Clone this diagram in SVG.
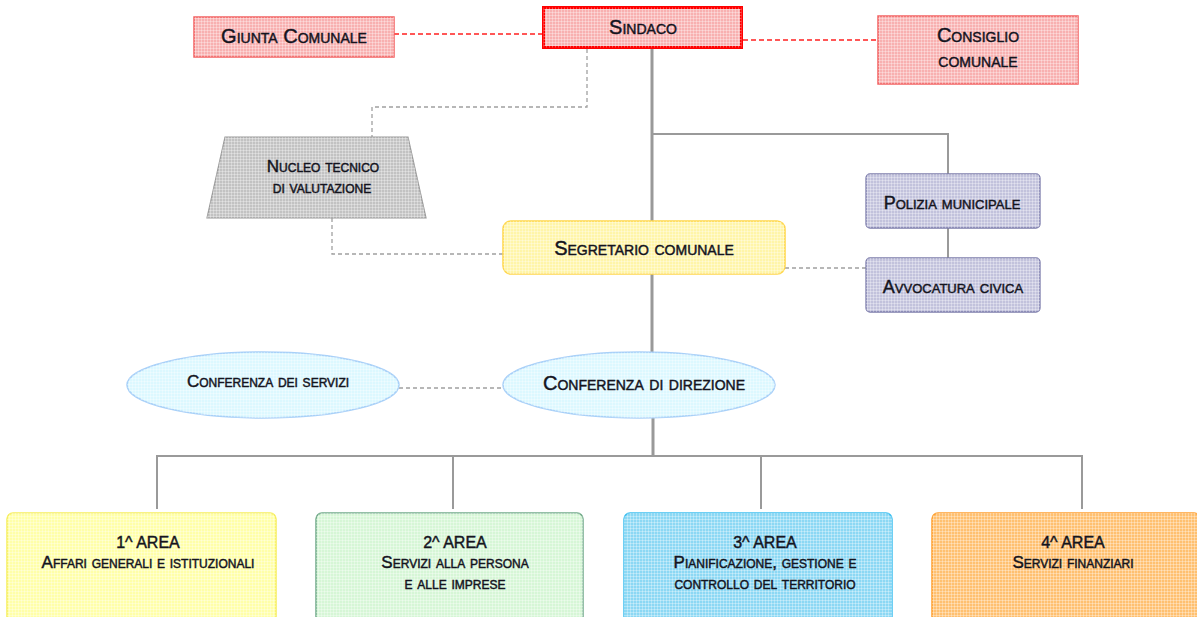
<svg xmlns="http://www.w3.org/2000/svg" width="1197" height="617" viewBox="0 0 1197 617">
<defs>
<pattern id="grid" width="3" height="3" patternUnits="userSpaceOnUse">
<path d="M0 0.5H3M0.5 0V3" stroke="#ffffff" stroke-width="0.7" stroke-opacity="0.45" fill="none"/>
</pattern>
<style>
text{font-family:"Liberation Sans",Arial,sans-serif;fill:#14141e;stroke:#14141e;stroke-width:0.45;text-anchor:middle;font-variant:small-caps}
.t20{font-size:20px}
.t18{font-size:18px}
.t17{font-size:17px}
.t16{font-size:16px;font-variant:normal}
.g{fill:url(#grid);stroke:none}
.solid{fill:none;stroke:#9a9a9a;stroke-width:2}
.main{fill:none;stroke:#999;stroke-width:3}
.dash{fill:none;stroke:#a0a0a0;stroke-width:1.3;stroke-dasharray:4 3}
.rdash{fill:none;stroke:#ff2020;stroke-width:1.3;stroke-dasharray:5 3}
</style>
</defs>
<rect width="1197" height="617" fill="#ffffff"/>

<g id="connectors">
<path class="main" d="M652 49V221M652 274V352M653 418V456"/>
<path class="solid" d="M652 134H948V174M948 228V258"/>
<path class="solid" d="M157 509V456H1082V509M453 456V509M761 456V509"/>
<path class="rdash" d="M394 34H542M743 40H878"/>
<path class="dash" d="M587 49V107H372V137M332 218V254H503M785 268H866M399 388H503"/>
</g>

<g id="giunta">
<rect x="194" y="17" width="200" height="40" fill="#f8b0b0" stroke="#f26262" stroke-width="1.5"/>
<rect x="194" y="17" width="200" height="40" class="g"/>
<text class="t20" x="294" y="43">Giunta Comunale</text>
</g>

<g id="sindaco">
<rect x="543.5" y="7.5" width="198" height="40" fill="#f8b0b0" stroke="#ff0000" stroke-width="3"/>
<rect x="543.5" y="7.5" width="198" height="40" class="g"/>
<text class="t20" x="643" y="34">Sindaco</text>
</g>

<g id="consiglio">
<rect x="878" y="16" width="200" height="68" fill="#f8b0b0" stroke="#f26262" stroke-width="1.5"/>
<rect x="878" y="16" width="200" height="68" class="g"/>
<text class="t20" x="978" y="42">Consiglio</text>
<text class="t20" x="978" y="67">comunale</text>
</g>

<g id="nucleo">
<polygon points="225,137 408,137 426,218 207,218" fill="#c2c2c2" stroke="#9a9a9a" stroke-width="1.2"/>
<polygon points="225,137 408,137 426,218 207,218" class="g"/>
<text class="t17" x="323" y="172">Nucleo tecnico</text>
<text class="t17" x="322" y="193">di valutazione</text>
</g>

<g id="segretario">
<rect x="503" y="221" width="282" height="53" rx="8" fill="#fff5a8" stroke="#ffd64a" stroke-width="1.5"/>
<rect x="503" y="221" width="282" height="53" rx="8" class="g"/>
<text class="t20" x="644" y="255">Segretario comunale</text>
</g>

<g id="polizia">
<rect x="866" y="174" width="174" height="54" rx="4" fill="#c2c2dc" stroke="#7c7cab" stroke-width="1.3"/>
<rect x="866" y="174" width="174" height="54" rx="4" class="g"/>
<text class="t18" x="952" y="209">Polizia municipale</text>
</g>

<g id="avvocatura">
<rect x="866" y="258" width="174" height="54" rx="4" fill="#c2c2dc" stroke="#7c7cab" stroke-width="1.3"/>
<rect x="866" y="258" width="174" height="54" rx="4" class="g"/>
<text class="t18" x="953" y="293">Avvocatura civica</text>
</g>

<g id="conf-servizi">
<ellipse cx="263" cy="385" rx="136" ry="33" fill="#dcf8ff" stroke="#a8d0f8" stroke-width="1.5"/>
<ellipse cx="263" cy="385" rx="136" ry="33" class="g"/>
<text class="t17" x="268" y="387">Conferenza dei servizi</text>
</g>

<g id="conf-direzione">
<ellipse cx="639" cy="385" rx="136" ry="33" fill="#dcf8ff" stroke="#a8d0f8" stroke-width="1.5"/>
<ellipse cx="639" cy="385" rx="136" ry="33" class="g"/>
<text class="t20" x="644" y="390">Conferenza di direzione</text>
</g>

<g id="area1">
<rect x="7" y="513" width="269" height="120" rx="6" fill="#ffffa8" stroke="#f6ee5c" stroke-width="1.5"/>
<rect x="7" y="513" width="269" height="120" rx="6" class="g"/>
<text class="t16" x="148" y="548">1^ AREA</text>
<text class="t17" x="148" y="568">Affari generali e istituzionali</text>
</g>

<g id="area2">
<rect x="316" y="513" width="267" height="120" rx="6" fill="#d6f6d6" stroke="#72aa8a" stroke-width="1.5"/>
<rect x="316" y="513" width="267" height="120" rx="6" class="g"/>
<text class="t16" x="455" y="548">2^ AREA</text>
<text class="t17" x="455" y="568">Servizi alla persona</text>
<text class="t17" x="455" y="589">e alle imprese</text>
</g>

<g id="area3">
<rect x="624" y="513" width="268" height="120" rx="6" fill="#8cd8f4" stroke="#40c0f0" stroke-width="1.5"/>
<rect x="624" y="513" width="268" height="120" rx="6" class="g"/>
<text class="t16" x="765" y="548">3^ AREA</text>
<text class="t17" x="765" y="568">Pianificazione, gestione e</text>
<text class="t17" x="765" y="589">controllo del territorio</text>
</g>

<g id="area4">
<rect x="932" y="513" width="268" height="120" rx="6" fill="#ffc070" stroke="#ffa030" stroke-width="1.5"/>
<rect x="932" y="513" width="268" height="120" rx="6" class="g"/>
<text class="t16" x="1073" y="548">4^ AREA</text>
<text class="t17" x="1073" y="568">Servizi finanziari</text>
</g>
</svg>
